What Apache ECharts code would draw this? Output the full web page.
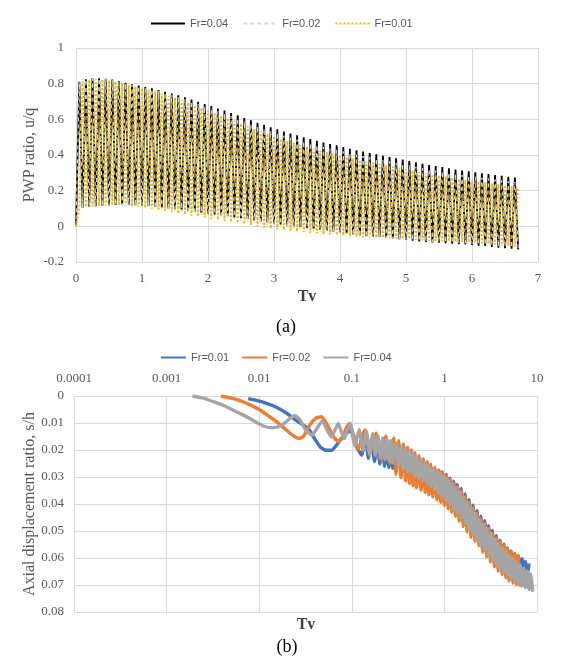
<!DOCTYPE html>
<html>
<head>
<meta charset="utf-8">
<script src="https://cdn.jsdelivr.net/npm/echarts/dist/echarts.min.js"></script>
<style>html,body{margin:0;padding:0;background:#fff}#c{width:563px;height:660px}</style>
</head>
<body>
<div id="c"></div>
<script>
// ---------- Panel (a): PWP ratio vs Tv ----------
const tvA = [
0,0.05,0.1,0.15,0.2,0.25,0.3,0.35,0.4,0.45,
0.5,0.55,0.6,0.65,0.7,0.75,0.8,0.85,0.9,0.95,
1,1.05,1.1,1.15,1.2,1.25,1.3,1.35,1.4,1.45,
1.5,1.55,1.6,1.65,1.7,1.75,1.8,1.85,1.9,1.95,
2,2.05,2.1,2.15,2.2,2.25,2.3,2.35,2.4,2.45,
2.5,2.55,2.6,2.65,2.7,2.75,2.8,2.85,2.9,2.95,
3,3.05,3.1,3.15,3.2,3.25,3.3,3.35,3.4,3.45,
3.5,3.55,3.6,3.65,3.7,3.75,3.8,3.85,3.9,3.95,
4,4.05,4.1,4.15,4.2,4.25,4.3,4.35,4.4,4.45,
4.5,4.55,4.6,4.65,4.7,4.75,4.8,4.85,4.9,4.95,
5,5.05,5.1,5.15,5.2,5.25,5.3,5.35,5.4,5.45,
5.5,5.55,5.6,5.65,5.7,5.75,5.8,5.85,5.9,5.95,
6,6.05,6.1,6.15,6.2,6.25,6.3,6.35,6.4,6.45,
6.5,6.55,6.6,6.65,6.7];

const fr004A = [
0,0.81,0.105,0.825,0.11,0.83,0.112,0.83,0.115,0.828,
0.117,0.823,0.12,0.815,0.12,0.805,0.12,0.798,0.118,0.79,
0.115,0.781,0.113,0.774,0.11,0.765,0.105,0.755,0.1,0.745,
0.095,0.735,0.09,0.724,0.085,0.711,0.08,0.699,0.075,0.686,
0.07,0.674,0.065,0.661,0.06,0.649,0.055,0.636,0.05,0.623,
0.045,0.608,0.04,0.594,0.033,0.581,0.025,0.569,0.02,0.556,
0.015,0.544,0.01,0.531,0.005,0.52,0,0.51,-0.005,0.5,
-0.01,0.49,-0.015,0.48,-0.02,0.47,-0.025,0.461,-0.03,0.454,
-0.035,0.445,-0.04,0.435,-0.045,0.426,-0.05,0.419,-0.055,0.411,
-0.058,0.404,-0.06,0.396,-0.065,0.389,-0.07,0.381,-0.072,0.374,
-0.075,0.366,-0.08,0.359,-0.085,0.351,-0.088,0.344,-0.09,0.338,
-0.092,0.333,-0.095,0.326,-0.098,0.319,-0.1,0.313,-0.102,0.308,
-0.105,0.303,-0.108,0.298,-0.11,0.293,-0.115,0.288,-0.12,0.283,
-0.122,0.278,-0.125,0.273,-0.13];

const fr002A = [
0,0.808,0.105,0.823,0.11,0.828,0.112,0.828,0.115,0.826,
0.117,0.82,0.119,0.812,0.118,0.801,0.117,0.794,0.114,0.785,
0.11,0.776,0.107,0.768,0.103,0.758,0.097,0.747,0.091,0.736,
0.085,0.725,0.08,0.713,0.074,0.699,0.069,0.686,0.063,0.672,
0.058,0.659,0.052,0.645,0.047,0.632,0.041,0.618,0.036,0.604,
0.03,0.588,0.025,0.574,0.018,0.56,0.01,0.548,0.005,0.534,
0,0.522,-0.005,0.508,-0.009,0.497,-0.014,0.486,-0.018,0.476,
-0.023,0.465,-0.027,0.455,-0.031,0.445,-0.035,0.436,-0.039,0.429,
-0.043,0.42,-0.047,0.41,-0.051,0.401,-0.055,0.394,-0.059,0.386,
-0.061,0.379,-0.062,0.371,-0.066,0.364,-0.07,0.356,-0.071,0.349,
-0.073,0.341,-0.077,0.334,-0.082,0.326,-0.084,0.319,-0.086,0.313,
-0.087,0.308,-0.09,0.301,-0.092,0.294,-0.094,0.288,-0.095,0.283,
-0.098,0.278,-0.101,0.273,-0.103,0.268,-0.108,0.263,-0.113,0.258,
-0.115,0.253,-0.118,0.248,-0.123];

const fr001A = [
0,0.1,0.813,0.108,0.823,0.111,0.825,0.114,0.824,0.116,
0.82,0.118,0.813,0.117,0.803,0.115,0.794,0.112,0.785,0.108,
0.775,0.103,0.766,0.099,0.756,0.093,0.744,0.086,0.732,0.079,
0.72,0.072,0.708,0.066,0.694,0.06,0.679,0.054,0.665,0.048,
0.65,0.042,0.636,0.036,0.621,0.03,0.607,0.024,0.592,0.018,
0.576,0.013,0.561,0.007,0.546,-0.001,0.533,-0.008,0.519,-0.013,
0.506,-0.017,0.492,-0.021,0.479,-0.025,0.468,-0.029,0.457,-0.033,
0.446,-0.037,0.435,-0.04,0.425,-0.043,0.416,-0.046,0.408,-0.049,
0.4,-0.052,0.39,-0.055,0.381,-0.058,0.373,-0.061,0.365,-0.063,
0.358,-0.063,0.35,-0.065,0.343,-0.068,0.335,-0.069,0.328,-0.07,
0.32,-0.072,0.313,-0.076,0.305,-0.079,0.298,-0.081,0.291,-0.082,
0.286,-0.083,0.28,-0.085,0.273,-0.087,0.266,-0.088,0.261,-0.089,
0.256,-0.092,0.251,-0.094,0.246,-0.098,0.241,-0.103,0.236,-0.106,
0.231,-0.109,0.226,-0.113,0.221];

// ---------- Panel (b): axial displacement ratio vs Tv (log) ----------
const fr001TvEarly = [0.0076,0.0095,0.012,0.015,0.0198,0.025,0.03,0.0342,0.0385,0.0454,0.0513,0.0606,0.0687,0.0778,0.088,0.0955,0.105,0.115,0.128,0.14,0.151,0.163,0.176,0.188,0.201,0.213,0.226,0.238,0.251,0.263,0.276,0.288];
const fr001SEarly  = [0.001,0.0017,0.0027,0.004,0.0064,0.009,0.0108,0.0123,0.0151,0.0188,0.02,0.0201,0.0181,0.0157,0.0138,0.0128,0.015,0.0195,0.0219,0.015,0.0231,0.016,0.0243,0.0168,0.0252,0.0175,0.026,0.018,0.0265,0.0183,0.0268,0.0185];

const fr002TvEarly = [0.00386,0.005,0.0062,0.008,0.0102,0.0125,0.0154,0.0185,0.0215,0.0245,0.027,0.03,0.0353,0.041,0.0473,0.054,0.062,0.0715,0.08,0.088,0.0955,0.105,0.1175,0.129,0.139,0.148,0.157,0.17,0.183,0.196,0.21,0.222,0.233,0.248,0.26,0.272,0.283];
const fr002SEarly  = [0,0.0008,0.0017,0.0033,0.0052,0.0073,0.0095,0.0118,0.0138,0.0152,0.0157,0.015,0.0107,0.0082,0.0077,0.0105,0.0145,0.0169,0.015,0.0115,0.0101,0.015,0.02,0.015,0.0126,0.018,0.0219,0.0165,0.0138,0.02,0.0237,0.018,0.0148,0.021,0.025,0.019,0.0155];

const fr004TvEarly = [0.0019,0.0025,0.0032,0.0042,0.0052,0.0065,0.0079,0.0095,0.0113,0.0131,0.015,0.0168,0.0192,0.0215,0.0243,0.0275,0.031,0.037,0.042,0.048,0.054,0.06,0.066,0.0715,0.0775,0.083,0.089,0.0955,0.108,0.12,0.132,0.144,0.156,0.168,0.18,0.192,0.204,0.216,0.228,0.24,0.252,0.264,0.276];
const fr004SEarly  = [0,0.0008,0.0021,0.0036,0.0052,0.0068,0.0083,0.0099,0.0112,0.0117,0.0116,0.0111,0.0098,0.0083,0.0072,0.0088,0.012,0.0145,0.012,0.0092,0.0125,0.0152,0.0125,0.0102,0.0135,0.0158,0.0128,0.0103,0.0185,0.0125,0.02,0.013,0.0215,0.014,0.022,0.0148,0.023,0.0155,0.0235,0.016,0.024,0.0165,0.0248];

const tvDense = [
0.30,0.32,0.34,0.36,0.38,0.40,0.42,0.44,0.46,0.48,
0.50,0.53,0.56,0.59,0.62,0.65,0.68,0.71,0.75,0.79,
0.83,0.87,0.91,0.95,1.0,1.05,1.1,1.15,1.2,1.26,
1.32,1.38,1.45,1.52,1.6,1.68,1.76,1.85,1.94,2.04,
2.14,2.25,2.36,2.48,2.6,2.73,2.87,3.0,3.15,3.3,
3.47,3.64,3.82,4.0,4.2,4.4,4.6,4.8,5.0,5.25,
5.5,5.75,6.0,6.3,6.6,6.9,7.2,7.5,7.85,8.2,
8.6,9.0];

const fr001SDense = [
.027,.019,.0278,.02,.0286,.021,.0294,.0218,.0302,.0226,
.031,.0234,.0319,.0244,.0328,.0252,.0337,.0259,.0347,.0269,
.0359,.0275,.0369,.0281,.038,.0291,.0395,.0304,.041,.0316,
.0426,.0328,.0443,.0342,.0463,.0363,.0483,.0384,.0502,.0404,
.0518,.0425,.0537,.0445,.0553,.0462,.0571,.048,.0588,.0498,
.0603,.0517,.0618,.0535,.063,.0549,.0641,.0563,.065,.0574,
.0658,.0583,.0665,.0592,.067,.0603,.067,.0613,.067,.062];

const fr002SDense = [
.029,.0166,.0302,.0178,.0314,.019,.0324,.02,.0332,.021,
.034,.0221,.0349,.0233,.0358,.0243,.0366,.0252,.0374,.0264,
.0384,.0275,.0394,.0284,.0405,.0296,.0418,.0309,.043,.0322,
.0446,.0336,.0463,.0352,.0483,.0373,.0503,.0394,.0523,.0414,
.0538,.0435,.0554,.0455,.0578,.0472,.0596,.049,.0614,.0507,
.0633,.0525,.0648,.054,.0661,.0553,.0673,.0565,.0685,.0576,
.0693,.0584,.07,.059,.0706];

const fr004SDense = [
.0175,.026,.0185,.027,.0195,.028,.0205,.0284,.0215,.0296,
.0225,.0305,.0237,.0314,.0248,.0324,.0257,.0334,.0268,.0348,
.0279,.036,.0289,.0373,.03,.0388,.0313,.0402,.0325,.0418,
.0339,.0434,.0354,.0452,.0373,.0472,.0392,.0494,.0414,.0514,
.0434,.0535,.0456,.0556,.0473,.0572,.0491,.059,.0509,.0608,
.0528,.0625,.0546,.064,.0562,.0652,.0576,.0664,.059,.0675,
.0603,.0685,.0615,.0693,.0627,.0704,.0638,.071,.0648,.0717,
.0659,.0725];

const yTicksA = {min: -0.2, max: 1, interval: 0.2};
const xTicksA = {min: 0, max: 7, interval: 1};
const xTicksB = {min: 0.0001, max: 10};
const yTicksB = {min: 0, max: 0.08, interval: 0.01};

// ---------- build ----------
function pairs(xs, ys) { return ys.map((v, i) => [xs[i], v]); }
function seriesB(tvE, sE, sD) { return pairs(tvE, sE).concat(pairs(tvDense, sD)); }

const serif = '"Liberation Serif","Times New Roman",serif';
const sans = '"Liberation Sans",Arial,sans-serif';
const labelStyle = {fontFamily: serif, fontSize: 13, color: '#595959'};
const gridLine = {show: true, lineStyle: {color: '#d9d9d9', width: 1}};
const legendText = {fontFamily: sans, fontSize: 11, color: '#595959'};

const chart = echarts.init(document.getElementById('c'), null, {renderer: 'canvas'});
chart.setOption({
  animation: false,
  backgroundColor: '#fff',
  grid: [
    {left: 76, top: 48, width: 462, height: 214},
    {left: 74, top: 396, width: 463, height: 216}
  ],
  legend: [
    {data: ['Fr=0.04', 'Fr=0.02', 'Fr=0.01'], left: 145, top: 13, itemWidth: 34, itemHeight: 12, itemGap: 14,
     itemStyle: {opacity: 0}, textStyle: legendText},
    {data: ['Fr=0.01 (b)', 'Fr=0.02 (b)', 'Fr=0.04 (b)'], left: 155, top: 347, itemWidth: 25, itemHeight: 12, itemGap: 12,
     itemStyle: {opacity: 0}, formatter: n => n.replace(' (b)', ''), textStyle: legendText}
  ],
  xAxis: [
    {type: 'value', gridIndex: 0, min: xTicksA.min, max: xTicksA.max, interval: xTicksA.interval,
     axisLine: {show: false}, axisTick: {show: false}, splitLine: gridLine,
     axisLabel: Object.assign({margin: 10}, labelStyle)},
    {type: 'log', gridIndex: 1, logBase: 10, position: 'top', min: xTicksB.min, max: xTicksB.max,
     axisLine: {show: false}, axisTick: {show: false}, splitLine: gridLine, minorSplitLine: {show: false},
     axisLabel: Object.assign({margin: 11, formatter: v => String(+Number(v).toPrecision(6))}, labelStyle)}
  ],
  yAxis: [
    {type: 'value', gridIndex: 0, min: yTicksA.min, max: yTicksA.max, interval: yTicksA.interval,
     axisLine: {show: false}, axisTick: {show: false}, splitLine: gridLine,
     axisLabel: Object.assign({margin: 12}, labelStyle),
     name: 'PWP ratio, u/q', nameLocation: 'middle', nameGap: 38, nameMoveOverlap: false,
     nameTextStyle: {fontFamily: serif, fontSize: 16, color: '#595959'}},
    {type: 'value', gridIndex: 1, inverse: true, min: yTicksB.min, max: yTicksB.max, interval: yTicksB.interval,
     axisLine: {show: false}, axisTick: {show: false}, splitLine: gridLine,
     axisLabel: Object.assign({margin: 10}, labelStyle),
     name: 'Axial displacement ratio, s/h', nameLocation: 'middle', nameGap: 36, nameMoveOverlap: false,
     nameTextStyle: {fontFamily: serif, fontSize: 16, color: '#595959'}}
  ],
  series: [
    {name: 'Fr=0.04', type: 'line', xAxisIndex: 0, yAxisIndex: 0, symbol: 'none',
     data: pairs(tvA, fr004A), lineStyle: {color: '#000', width: 1.8}, itemStyle: {color: '#000'}},
    {name: 'Fr=0.02', type: 'line', xAxisIndex: 0, yAxisIndex: 0, symbol: 'none',
     data: pairs(tvA, fr002A), lineStyle: {color: '#d9d9d9', width: 1, type: [4, 3]}, itemStyle: {color: '#d9d9d9'}},
    {name: 'Fr=0.01', type: 'line', xAxisIndex: 0, yAxisIndex: 0, symbol: 'none',
     data: pairs(tvA, fr001A), lineStyle: {color: '#F2B800', width: 2, type: [2, 2]}, itemStyle: {color: '#F2B800'}},
    {name: 'Fr=0.01 (b)', type: 'line', xAxisIndex: 1, yAxisIndex: 1, symbol: 'none', smooth: 0.15,
     data: seriesB(fr001TvEarly, fr001SEarly, fr001SDense), lineStyle: {color: '#4472C4', width: 3.4}, itemStyle: {color: '#4472C4'}},
    {name: 'Fr=0.02 (b)', type: 'line', xAxisIndex: 1, yAxisIndex: 1, symbol: 'none', smooth: 0.15,
     data: seriesB(fr002TvEarly, fr002SEarly, fr002SDense), lineStyle: {color: '#ED7D31', width: 3.4}, itemStyle: {color: '#ED7D31'}},
    {name: 'Fr=0.04 (b)', type: 'line', xAxisIndex: 1, yAxisIndex: 1, symbol: 'none', smooth: 0.15,
     data: seriesB(fr004TvEarly, fr004SEarly, fr004SDense), lineStyle: {color: '#A5A5A5', width: 3.4}, itemStyle: {color: '#A5A5A5'}}
  ],
  graphic: [
    {type: 'text', x: 307, y: 297, style: {text: 'Tv', align: 'center', verticalAlign: 'middle', font: 'bold 16px ' + serif, fill: '#404040'}},
    {type: 'text', x: 286, y: 327, style: {text: '(a)', align: 'center', verticalAlign: 'middle', font: '18px ' + serif, fill: '#000'}},
    {type: 'text', x: 306, y: 625, style: {text: 'Tv', align: 'center', verticalAlign: 'middle', font: 'bold 16px ' + serif, fill: '#404040'}},
    {type: 'text', x: 287, y: 647, style: {text: '(b)', align: 'center', verticalAlign: 'middle', font: '18px ' + serif, fill: '#000'}}
  ]
});
</script>
</body>
</html>
